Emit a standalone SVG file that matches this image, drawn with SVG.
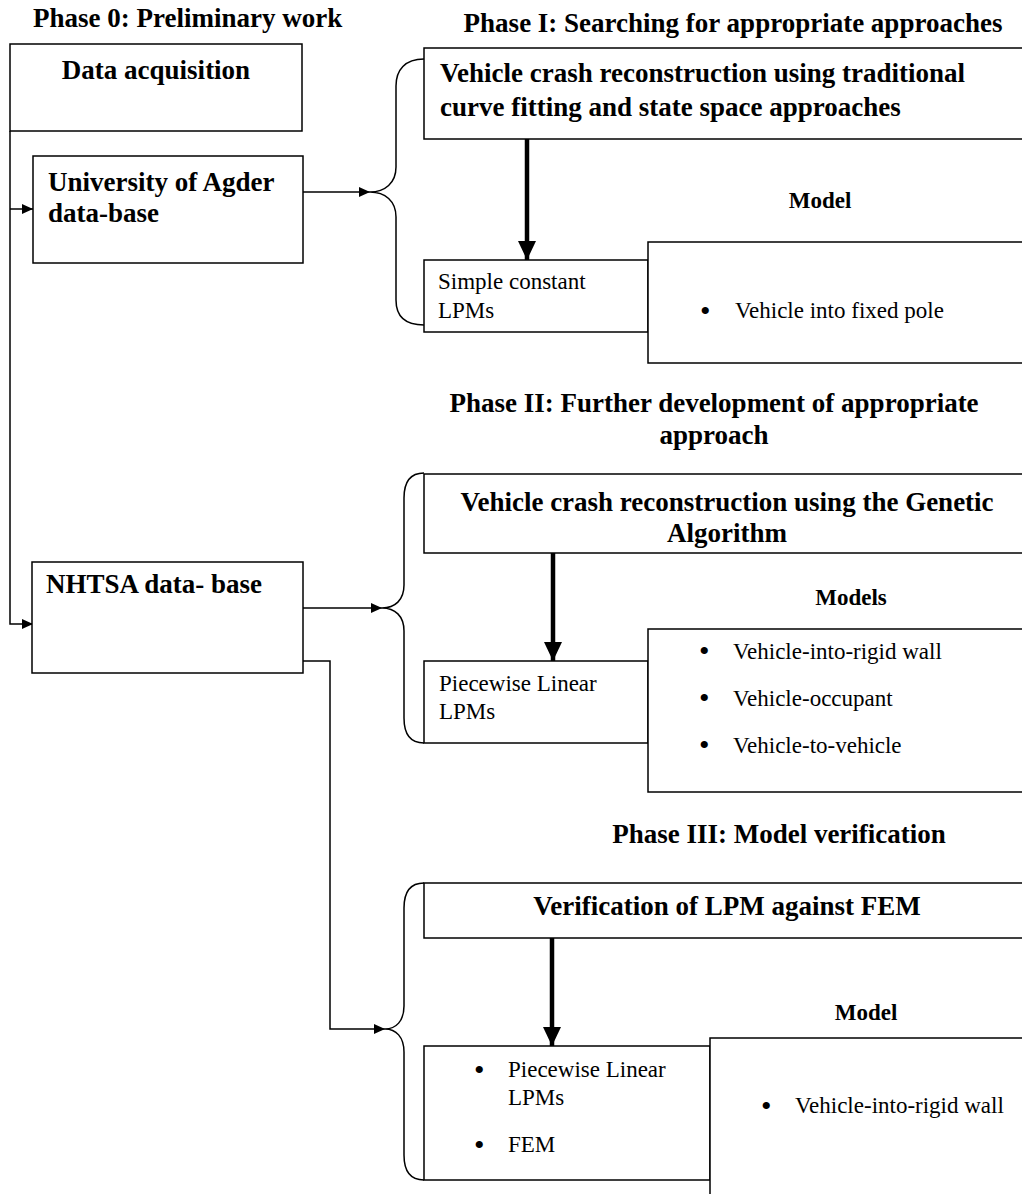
<svg xmlns="http://www.w3.org/2000/svg" width="1022" height="1194" viewBox="0 0 1022 1194">
<style>
.box{fill:#fff;stroke:#000;stroke-width:1.5}
.ln{fill:none;stroke:#000;stroke-width:1.5}
.thick{fill:none;stroke:#000;stroke-width:4.5}
.b{font-family:"Liberation Serif","Times New Roman",serif;font-weight:bold;font-size:27px;fill:#000}
.m{font-family:"Liberation Serif","Times New Roman",serif;font-weight:bold;font-size:23px;fill:#000}
.r{font-family:"Liberation Serif","Times New Roman",serif;font-size:23px;fill:#000}
.bu{font-family:"Liberation Serif","Times New Roman",serif;font-size:30px;fill:#000}
.c{text-anchor:middle}
</style>
<defs>
<marker id="ah" markerUnits="userSpaceOnUse" markerWidth="12" markerHeight="10" refX="11" refY="5" orient="auto">
<path d="M0,0 L11,5 L0,10 Z" fill="#000"/>
</marker>
<marker id="th" markerUnits="userSpaceOnUse" markerWidth="20" markerHeight="18" refX="19" refY="9" orient="auto">
<path d="M0,0 L19,9 L0,18 Z" fill="#000"/>
</marker>
</defs>

<text class="b" x="33" y="27">Phase 0: Preliminary work</text>
<text class="b c" x="733" y="32">Phase I: Searching for appropriate approaches</text>
<text class="b c" x="714" y="412">Phase II: Further development of appropriate</text>
<text class="b c" x="714" y="444">approach</text>
<text class="b c" x="779" y="843">Phase III: Model verification</text>

<g id="connectors">
<path class="ln" d="M10,131 L10,624 L33,624" marker-end="url(#ah)"/>
<path class="ln" d="M10,209 L33,209" marker-end="url(#ah)"/>
<path class="ln" d="M303,192 L370,192" marker-end="url(#ah)"/>
<path class="ln" d="M303,608 L382,608" marker-end="url(#ah)"/>
<path class="ln" d="M303,661 L330,661 L330,1029 L385,1029" marker-end="url(#ah)"/>
<path class="thick" d="M527,139 L527,260" marker-end="url(#th)"/>
<path class="thick" d="M553,553 L553,661" marker-end="url(#th)"/>
<path class="thick" d="M552,938 L552,1046" marker-end="url(#th)"/>
<path id="brace1" class="ln" d="M424,59 C405,59 396,70 396,86 L396,167 C396,183 385,192 370,192 C385,192 396,201 396,217 L396,300 C396,316 405,325 424,325"/>
<path id="brace2" class="ln" d="M424,473 C410,473 404,483 404,498 L404,585 C404,600 395,608 382,608 C395,608 404,616 404,631 L404,718 C404,733 410,743 424,743"/>
<path id="brace3" class="ln" d="M424,883 C410,883 404,893 404,908 L404,1006 C404,1021 396,1029 385,1029 C396,1029 404,1037 404,1052 L404,1155 C404,1170 410,1180 424,1180"/>
</g>

<g id="data-acquisition">
<rect class="box" x="10" y="44" width="292" height="87"/>
<text class="b c" x="156" y="79">Data acquisition</text>
</g>

<g id="uia-database">
<rect class="box" x="33" y="156" width="270" height="107"/>
<text class="b" x="48" y="191">University of Agder</text>
<text class="b" x="48" y="222">data-base</text>
</g>

<g id="nhtsa-database">
<rect class="box" x="32" y="562" width="271" height="111"/>
<text class="b" x="46" y="593">NHTSA data- base</text>
</g>

<g id="phase1-method">
<rect class="box" x="424" y="48" width="610" height="91"/>
<text class="b" x="440" y="82">Vehicle crash reconstruction using traditional</text>
<text class="b" x="440" y="116">curve fitting and state space approaches</text>
</g>

<g id="phase1-lpm">
<rect class="box" x="424" y="260" width="224" height="72"/>
<text class="r" x="438" y="289">Simple constant</text>
<text class="r" x="438" y="318">LPMs</text>
</g>

<g id="phase1-model">
<text class="m c" x="820" y="208">Model</text>
<rect class="box" x="648" y="242" width="386" height="121"/>
<text class="bu" x="700" y="321">•</text>
<text class="r" x="735" y="318">Vehicle into fixed pole</text>
</g>

<g id="phase2-method">
<rect class="box" x="424" y="474" width="610" height="79"/>
<text class="b c" x="727" y="511">Vehicle crash reconstruction using the Genetic</text>
<text class="b c" x="727" y="542">Algorithm</text>
</g>

<g id="phase2-lpm">
<rect class="box" x="424" y="661" width="224" height="82"/>
<text class="r" x="439" y="691">Piecewise Linear</text>
<text class="r" x="439" y="719">LPMs</text>
</g>

<g id="phase2-models">
<text class="m c" x="851" y="605">Models</text>
<rect class="box" x="648" y="629" width="386" height="163"/>
<text class="bu" x="699" y="661">•</text>
<text class="r" x="733" y="659">Vehicle-into-rigid wall</text>
<text class="bu" x="699" y="708">•</text>
<text class="r" x="733" y="706">Vehicle-occupant</text>
<text class="bu" x="699" y="755">•</text>
<text class="r" x="733" y="753">Vehicle-to-vehicle</text>
</g>

<g id="phase3-method">
<rect class="box" x="424" y="883" width="610" height="55"/>
<text class="b c" x="727" y="915">Verification of LPM against FEM</text>
</g>

<g id="phase3-lpm">
<rect class="box" x="424" y="1046" width="286" height="134"/>
<text class="bu" x="474" y="1080">•</text>
<text class="r" x="508" y="1077">Piecewise Linear</text>
<text class="r" x="508" y="1105">LPMs</text>
<text class="bu" x="474" y="1155">•</text>
<text class="r" x="508" y="1152">FEM</text>
</g>

<g id="phase3-model">
<text class="m c" x="866" y="1020">Model</text>
<rect class="box" x="710" y="1038" width="324" height="170"/>
<text class="bu" x="761" y="1116">•</text>
<text class="r" x="795" y="1113">Vehicle-into-rigid wall</text>
</g>
</svg>
